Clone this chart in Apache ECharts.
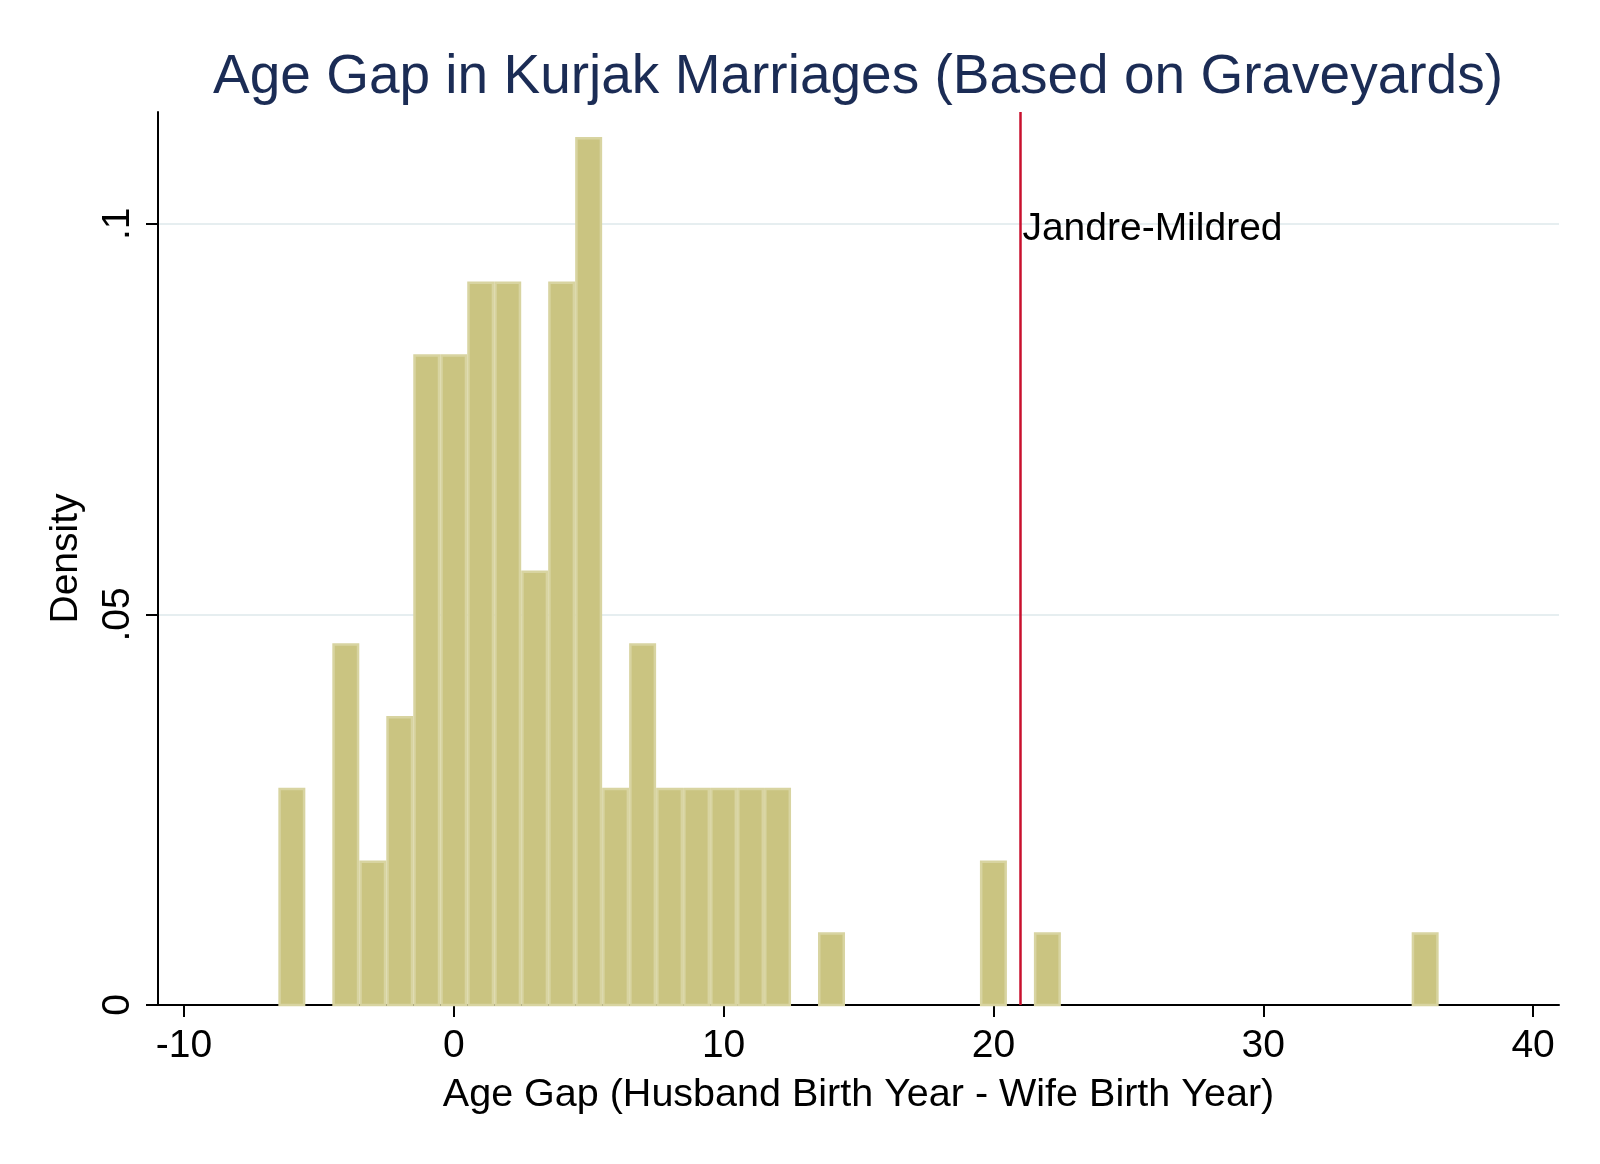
<!DOCTYPE html>
<html>
<head>
<meta charset="utf-8">
<script src="https://cdn.jsdelivr.net/npm/echarts@6/dist/echarts.min.js"></script>
<style>
html,body{margin:0;padding:0;background:#fff;}
#chart{width:1600px;height:1164px;}
</style>
</head>
<body>
<div id="chart"></div>
<script>
// ---- data ----
const binCenters = [-6, -4, -3, -2, -1, 0, 1, 2, 3, 4, 5, 6, 7, 8, 9, 10, 11, 12, 14, 20, 22, 36];
const densities  = [0.0278, 0.0463, 0.0185, 0.0370, 0.0833, 0.0833, 0.0926, 0.0926, 0.0556, 0.0926, 0.1111,
                    0.0278, 0.0463, 0.0278, 0.0278, 0.0278, 0.0278, 0.0278, 0.0093, 0.0185, 0.0093, 0.0093];
const binWidth = 1;
const xTicks = [-10, 0, 10, 20, 30, 40];
const yTicks = [0, 0.05, 0.1];
const yTickLabels = ['0', '.05', '.1'];
const refLineX = 21;
const refLabel = 'Jandre-Mildred';
const refLabelY = 0.1;
const titleText = 'Age Gap in Kurjak Marriages (Based on Graveyards)';
const xTitle = 'Age Gap (Husband Birth Year - Wife Birth Year)';
const yTitle = 'Density';

const FONT = '"Liberation Sans", Arial, Helvetica, sans-serif';
const chart = echarts.init(document.getElementById('chart'), null, {renderer: 'canvas'});

const option = {
  backgroundColor: '#ffffff',
  animation: false,
  title: {
    text: titleText,
    left: 853, textAlign: 'center',
    top: 45,
    textStyle: {fontFamily: FONT, fontSize: 55, fontWeight: 'normal', color: '#1b2c55'}
  },
  grid: {left: 158, right: 41, top: 112, bottom: 159, containLabel: false},
  xAxis: {
    type: 'value',
    min: -10.96, max: 40.96,
    name: xTitle, nameLocation: 'middle', nameGap: 70,
    nameTextStyle: {fontFamily: FONT, fontSize: 39.5, color: '#000'},
    axisLine: {show: true, onZero: false, lineStyle: {color: '#000', width: 2}},
    axisTick: {show: true, length: 12, lineStyle: {color: '#000', width: 2}, customValues: xTicks},
    axisLabel: {fontFamily: FONT, fontSize: 39, color: '#000', margin: 22, customValues: xTicks,
                formatter: v => String(v)},
    splitLine: {show: false}
  },
  yAxis: {
    type: 'value',
    min: 0, max: 0.1143,
    name: yTitle, nameLocation: 'middle', nameGap: 72, nameRotate: 90,
    nameTextStyle: {fontFamily: FONT, fontSize: 39, color: '#000'},
    axisLine: {show: true, onZero: false, lineStyle: {color: '#000', width: 2}},
    axisTick: {show: true, length: 12, lineStyle: {color: '#000', width: 2}, customValues: yTicks},
    axisLabel: {fontFamily: FONT, fontSize: 39, color: '#000', margin: 20, rotate: 90, customValues: yTicks,
                formatter: v => { const i = yTicks.findIndex(t => Math.abs(t - v) < 1e-9); return i >= 0 ? yTickLabels[i] : ''; }},
    splitLine: {show: false}
  },
  series: [
    {
      type: 'line', data: [], z: 0, silent: true,
      markLine: {
        silent: true, symbol: 'none', z: 0,
        label: {show: false},
        lineStyle: {color: '#e6eef0', width: 2, type: 'solid'},
        data: yTicks.filter(v => v > 0).map(v => ({yAxis: v}))
      }
    },
    {
      type: 'custom', z: 2,
      data: binCenters.map((c, i) => [c, densities[i]]),
      renderItem: function (params, api) {
        const c = api.value(0), d = api.value(1);
        const p0 = api.coord([c - binWidth / 2, 0]);
        const p1 = api.coord([c + binWidth / 2, d]);
        return {
          type: 'rect',
          shape: {x: p0[0] + 1.25, y: p1[1] + 1.25, width: p1[0] - p0[0] - 2.5, height: p0[1] - p1[1] - 1.25},
          style: {fill: '#cac481', stroke: '#d8d4a1', lineWidth: 2.5}
        };
      }
    },
    {
      type: 'line', data: [], z: 3, silent: true,
      markLine: {
        silent: true, symbol: 'none', z: 3,
        label: {show: false},
        lineStyle: {color: '#c8102e', width: 2.5, type: 'solid'},
        data: [{xAxis: refLineX}]
      }
    },
    {
      type: 'scatter', z: 4, silent: true,
      symbolSize: 0,
      itemStyle: {opacity: 1},
      data: [[refLineX, refLabelY]],
      label: {show: true, position: 'right', distance: 2, offset: [0, 6], formatter: refLabel,
              fontFamily: FONT, fontSize: 39, color: '#000', opacity: 1, textBorderWidth: 0}
    }
  ]
};
chart.setOption(option);
</script>
</body>
</html>
